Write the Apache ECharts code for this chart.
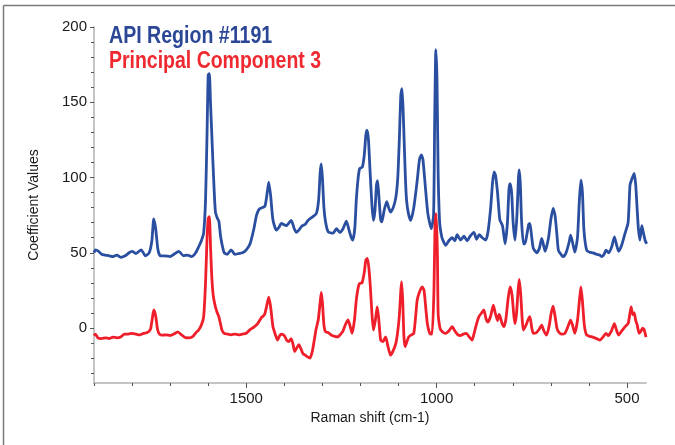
<!DOCTYPE html>
<html>
<head>
<meta charset="utf-8">
<script src="https://cdn.jsdelivr.net/npm/echarts@6/dist/echarts.min.js"></script>
<style>
html,body{margin:0;padding:0;background:#fff;}
#chart{width:675px;height:445px;}
</style>
</head>
<body>
<div id="chart"></div>
<script>
// ---- data ----
var seriesNames = ['API Region #1191', 'Principal Component 3'];
var xLabelValues = [500, 1000, 1500];
var xMinorTicks = [500, 600, 700, 800, 900, 1000, 1100, 1200, 1300, 1400, 1500, 1600, 1700, 1800, 1900];
var yLabelValues = [0, 50, 100, 150, 200];
var yMinorTicks = [-30, -20, -10, 0, 10, 20, 30, 40, 50, 60, 70, 80, 90, 100, 110, 120, 130, 140, 150, 160, 170, 180, 190, 200];

var blueShift = [1900,1896,1888,1880,1871,1860,1850,1840,1830,1818,1808,1800,1790,1776,1765,1755,1748,1743,1738,1732,1726,1715,1700,1690,1677,1665,1655,1643,1633,1625,1618,1612,1607,1603,1600,1597,1594,1590,1585,1581,1576,1572,1568,1564,1558,1550,1540,1530,1520,1510,1500,1490,1480,1473,1466,1458,1451,1446,1441,1436,1430,1421,1414,1408,1395,1382,1374,1368,1362,1355,1345,1338,1325,1316,1310,1306,1303,1300,1296,1292,1285,1272,1263,1254,1246,1237,1230,1224,1220,1215,1211,1206,1202,1195,1190,1186,1183,1179,1175,1170,1166,1162,1158,1155,1151,1147,1144,1138,1131,1126,1121,1114,1107,1102,1098,1094,1091,1088,1085,1082,1079,1074,1068,1060,1051,1045,1040,1036,1030,1023,1014,1008,1005,1002,999,996,992,986,981,976,968,959,952,946,937,928,920,912,902,895,888,880,871,865,858,853,849,845,840,834,827,820,814,810,807,803,799,794,789,785,783,780,777,772,768,763,758,755,750,746,737,730,724,719,715,706,700,694,689,684,680,672,667,660,652,648,643,637,630,625,621,617,613,606,598,589,580,572,566,560,555,548,540,533,528,522,514,505,497,492,487,481,477,473,470,466,461,457,452,448];
var blueValues = [50,52,51,49,48.5,48,47.5,48.5,47,48,50,51,49.5,52,48,50,58,72.5,66,52,48,48,47.5,49,51,48,48.5,47.5,50,54,58,63,85,130,168,169,150,125,95,77,73,71,62,56,50,49,52,49,49.5,50,52,56,66,75,79,80,81,88,97,88,72,65,67,69.5,68,71.5,66,63.5,65,67.5,69,71.5,74,76,85,103,109,100,80,71,64,63,66,63.5,66,71,65,60,58.5,66,85,100,106,107,115,128,131.5,125,105,82,71.5,78,95,98,85,72,70.5,78,84,80,77,80,87,100,125,155,159,145,122,100,85,76,71.5,80,98,112,115,112,95,76,66,75,140,185,165,103,70,60,57,55,58,60,58,62,58.5,61,58,61,63.5,59,62,60,58.5,64,80,97,103.8,101,90,72,68,56,70,92,96,90,70,58.4,75,100,105,95,72,56,56,62,69,69.5,60,53,50,53,59.5,55,51,60,72,79.5,75,62,51.5,48.5,47.4,50,57,61.8,57,50.4,60,85,98.3,90,65,51.8,50.4,50,49,48.5,47.4,49,51.8,50,54,60.6,56,51,55,63,70,95,99,102.7,95,78,66,58.4,68,63.5,58,56];

var redShift = [1900,1896,1890,1880,1870,1860,1850,1840,1830,1820,1810,1800,1790,1780,1770,1760,1752,1747,1743,1738,1733,1728,1720,1710,1700,1690,1680,1670,1660,1650,1640,1632,1625,1618,1612,1607,1603,1600,1597,1594,1591,1587,1581,1576,1572,1567,1564,1558,1550,1540,1530,1520,1510,1500,1490,1481,1470,1460,1452,1447,1441,1436,1430,1424,1418,1412,1408,1400,1394,1388,1382,1377,1373,1367,1362,1356,1351,1345,1340,1333,1327,1322,1316,1311,1306,1303,1300,1296,1292,1285,1277,1268,1259,1252,1246,1240,1233,1228,1222,1216,1211,1206,1202,1196,1190,1186,1182,1178,1174,1170,1166,1161,1156,1152,1147,1141,1134,1128,1121,1114,1107,1102,1098,1094,1092,1089,1086,1083,1078,1073,1066,1060,1055,1051,1045,1038,1033,1028,1024,1018,1012,1007,1004,1001,998,996,992,989,982,976,968,959,952,946,938,930,922,914,907,902,896,889,882,876,870,865,858,851,846,840,836,833,828,823,818,812,807,802,797,794,790,786,783,779,775,772,765,759,755,750,746,738,731,724,718,711,704,699,694,689,684,680,672,663,655,648,643,637,630,625,621,617,612,606,598,590,580,571,563,555,549,541,533,528,522,514,505,497,492,489,485,481,477,473,468,463,459,455,450];
var redValues = [-5,-4,-6.5,-7,-6.5,-7,-6,-6.5,-6,-4,-4,-3.5,-4,-4.5,-3.5,-3,-1,6,12,8,-1,-4,-4.7,-4.5,-5,-4,-2.5,-4.5,-6.4,-6.5,-5.5,-3,-1.3,2,7.5,30,60,73,74,55,36,22,14,10,7.5,2,-1.3,-3.5,-4,-4.5,-4,-4.5,-4,-3.5,-1,0.5,3,7,9,14,20.5,14,1,-4,-8,-5,-4,-5,-8,-9,-7,-11,-15.5,-13,-11,-14,-17,-18,-19,-20,-16,-9,0,5.3,17,23.7,17,2,-2.4,-3,-4.6,-5.5,-5.8,-4,-2,2,5.5,2,-3.5,5,18.6,27,29.7,30,37,45,46.3,40,27,10,-1.3,5,14,6,-8,-9,-5.8,-12,-18,-15,-10,-2,8,25,30.7,18,-5,-12.4,-9,-5.8,-4.5,-3.5,8,18.6,24,27.4,25,12,2.4,-3.5,-4,25,70,76,50,9.7,1,-1.3,-3,-3.5,-2,1,-2,-4,-5,-4,-3.5,-6,-8,-4,2,7.5,10,12,6,4,8,15.3,10,5,9,7.5,3,1,6,20,27.4,22,8,3,10,25,32.3,22,5,-1.3,2,6,7.5,0,-3.5,-3,-1,2,-2,-4.6,2,10,14.6,8,0,-2.4,-4,-3.5,1,5.3,2,-3.5,5,18,27.4,18,2,-4.6,-5.5,-6,-7,-8,-6,-3.5,-5,-2,3,-1,-4.6,-2,0.9,3,10,14,9,10,5,2,-3.5,-2,0,-1,-6];

function pairs(xs, ys) { return xs.map(function (x, i) { return [x, ys[i]]; }); }
function plain(v) { return String(v); }

var BLUE = '#2a4fa0', RED = '#ee1f2a';
var FONT = "'Liberation Sans', Arial, sans-serif";
var LEG_FONT = "bold 22px 'Liberation Sans', Arial, sans-serif";
var chart = echarts.init(document.getElementById('chart'), null, {renderer: 'canvas'});
var commonX = {type: 'value', min: 450, max: 1900, inverse: true, position: 'bottom', splitLine: {show: false}};
var commonY = {type: 'value', min: -36.5, max: 200, position: 'left', splitLine: {show: false}};
chart.setOption({
  animation: false,
  backgroundColor: '#fff',
  grid: {left: 94, right: 29, top: 27, bottom: 62, containLabel: false},
  xAxis: [
    Object.assign({}, commonX, {
      name: 'Raman shift (cm-1)', nameLocation: 'middle', nameGap: 18,
      nameTextStyle: {fontFamily: FONT, fontSize: 14, color: '#1a1a1a'},
      axisLine: {show: true, onZero: false, lineStyle: {color: '#c4c4c4', width: 2}},
      axisTick: {show: true, length: 5, customValues: xLabelValues, lineStyle: {color: '#555', width: 1}},
      axisLabel: {customValues: xLabelValues, formatter: plain, margin: 8, fontFamily: FONT, fontSize: 15, color: '#1a1a1a'}
    }),
    Object.assign({}, commonX, {
      axisLine: {show: false, onZero: false}, axisLabel: {show: false},
      axisTick: {show: true, length: 3, customValues: xMinorTicks, lineStyle: {color: '#555', width: 1}}
    })
  ],
  yAxis: [
    Object.assign({}, commonY, {
      name: 'Coefficient Values', nameLocation: 'middle', nameGap: 53,
      nameTextStyle: {fontFamily: FONT, fontSize: 14, color: '#1a1a1a'},
      axisLine: {show: true, onZero: false, lineStyle: {color: '#c4c4c4', width: 2}},
      axisTick: {show: true, length: 4, customValues: yLabelValues, lineStyle: {color: '#555', width: 1}},
      axisLabel: {customValues: yLabelValues, formatter: plain, margin: 7, fontFamily: FONT, fontSize: 15, color: '#1a1a1a'}
    }),
    Object.assign({}, commonY, {
      axisLine: {show: false, onZero: false}, axisLabel: {show: false},
      axisTick: {show: true, length: 3, customValues: yMinorTicks, lineStyle: {color: '#555', width: 1}}
    })
  ],
  graphic: [
    {type: 'line', silent: true, shape: {x1: 3.5, y1: 5.5, x2: 675, y2: 5.5}, style: {stroke: '#7a7a7a', lineWidth: 1.5}},
    {type: 'line', silent: true, shape: {x1: 3.5, y1: 5.5, x2: 3.5, y2: 445}, style: {stroke: '#7a7a7a', lineWidth: 1.5}},
    {type: 'text', x: 109, y: 25, scaleX: 0.89, scaleY: 1.07, style: {text: seriesNames[0], fill: '#2b4796', font: LEG_FONT, verticalAlign: 'top'}},
    {type: 'text', x: 109, y: 50, scaleX: 0.885, scaleY: 1.07, style: {text: seriesNames[1], fill: '#ee2a30', font: LEG_FONT, verticalAlign: 'top'}}
  ],
  series: [
    {name: seriesNames[0], type: 'line', xAxisIndex: 0, yAxisIndex: 0, data: pairs(blueShift, blueValues), showSymbol: false, smooth: 0.2, lineStyle: {color: BLUE, width: 2.8}, itemStyle: {color: BLUE}},
    {name: seriesNames[1], type: 'line', xAxisIndex: 0, yAxisIndex: 0, data: pairs(redShift, redValues), showSymbol: false, smooth: 0.2, lineStyle: {color: RED, width: 2.8}, itemStyle: {color: RED}}
  ]
});
</script>
</body>
</html>
